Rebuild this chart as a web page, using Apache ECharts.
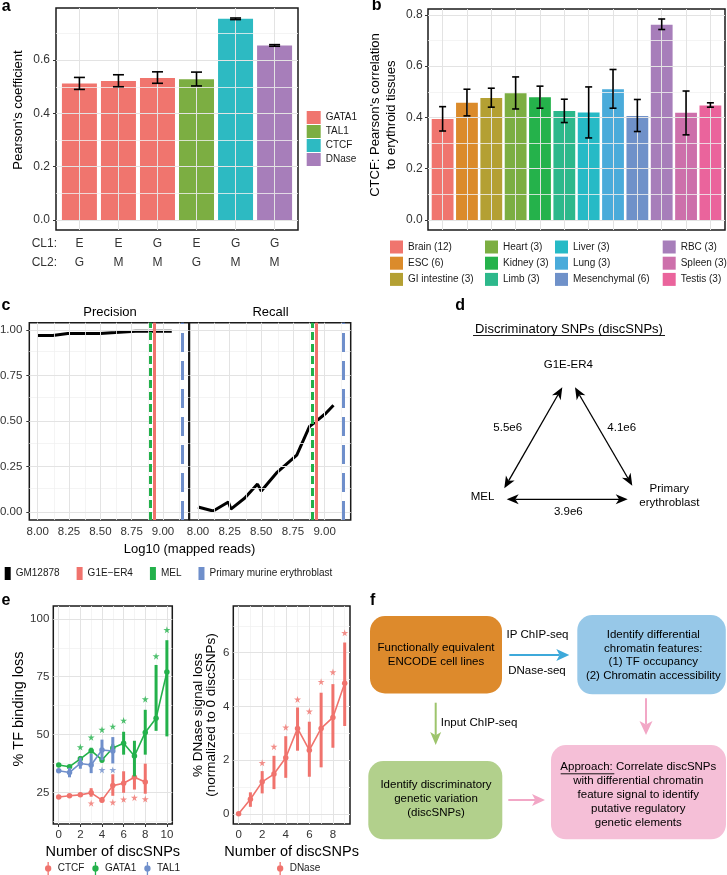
<!DOCTYPE html>
<html><head><meta charset="utf-8">
<script src="https://cdn.jsdelivr.net/npm/echarts@6/dist/echarts.min.js"></script>
<style>html,body{margin:0;padding:0;background:#fff}#c{width:727px;height:875px}</style>
</head><body><div id="c"></div>
<script>
// ---------------- Panel a data ----------------
const aCL1 = ['E','E','G','E','G','G'];
const aCL2 = ['G','M','M','G','M','M'];
const aMarkOf = ['GATA1','GATA1','GATA1','TAL1','CTCF','DNase'];
const aMean = [0.512,0.522,0.533,0.528,0.755,0.655];
const aLow  = [0.490,0.500,0.513,0.503,0.752,0.652];
const aHigh = [0.535,0.545,0.556,0.555,0.758,0.658];
const aMarks = ['GATA1','TAL1','CTCF','DNase'];
const aYTicks = [0,0.2,0.4,0.6];
const aYMinor = [0.1,0.3,0.5,0.7];

// ---------------- Panel b data ----------------
const bTissues = ['Brain (12)','ESC (6)','GI intestine (3)','Heart (3)','Kidney (3)','Limb (3)','Liver (3)','Lung (3)','Mesenchymal (6)','RBC (3)','Spleen (3)','Testis (3)'];
const bMean = [0.394,0.457,0.476,0.494,0.479,0.425,0.419,0.510,0.406,0.762,0.418,0.447];
const bLow  = [0.347,0.406,0.440,0.433,0.436,0.380,0.320,0.436,0.345,0.743,0.332,0.440];
const bHigh = [0.442,0.510,0.514,0.558,0.522,0.471,0.519,0.587,0.470,0.784,0.503,0.457];
const bYTicks = [0,0.2,0.4,0.6,0.8];
const bYMinor = [0.1,0.3,0.5,0.7];

// ---------------- Panel c data ----------------
const cReads     = [8.00,8.12,8.24,8.26,8.37,8.47,8.50,8.62,8.78,8.88,8.93,9.01,9.07];
const cPrecision = [0.969,0.969,0.980,0.980,0.980,0.980,0.980,0.985,0.992,0.992,0.992,0.992,0.992];
const cRecall    = [0.027,0.005,0.055,0.016,0.077,0.153,0.115,0.214,0.312,0.469,0.496,0.542,0.586];
const cRefNames  = ['G1E\u2212ER4','MEL','Primary murine erythroblast'];
const cRefReads  = [8.93,8.905,9.148];
const cXTicks = [8,8.25,8.5,8.75,9];
const cXMinor = [8.125,8.375,8.625,8.875,9.125];
const cYTicks = [0,0.25,0.5,0.75,1];
const cYMinor = [0.125,0.375,0.625,0.875];

// ---------------- Panel e data ----------------
const eCTCFx = [0,1,2,3,4,5,6,7,8];
const eCTCF     = [23.0,23.5,23.9,24.8,21.6,27.9,28.9,31.5,29.5];
const eCTCFLow  = [22.6,23.1,23.3,23.1,20.7,23.5,24.8,26.2,24.4];
const eCTCFHigh = [23.4,23.9,24.5,26.8,23.0,32.8,34.1,33.2,37.4];
const eCTCFStars = [[3,20.3],[5,20.7],[6,22.0],[7,22.7],[8,22.1]];
const eGATA1x = [0,1,2,3,4,5,6,7,8,9,10];
const eGATA1     = [36.8,36.1,39.5,43.0,39.0,44.2,46.2,40.7,50.9,57.0,77.0];
const eGATA1Low  = [36.2,35.4,38.5,41.8,37.8,42.5,41.3,31.9,41.3,51.6,49.2];
const eGATA1High = [37.4,36.8,40.6,44.3,40.3,45.8,51.2,47.3,60.7,80.1,90.8];
const eGATA1Stars = [[2,44.6],[3,48.8],[4,52.1],[5,53.5],[6,56.1],[8,65.3],[9,83.9],[10,95.3]];
const eTAL1x = [0,1,2,3,4,5];
const eTAL1     = [34.3,33.6,37.5,36.8,43.3,42.9];
const eTAL1Low  = [33.6,31.5,35.2,33.3,38.9,37.5];
const eTAL1High = [35.0,35.6,40.0,41.7,47.8,48.9];
const eTAL1Stars = [[4,34.7],[5,34.7]];
const eDNasex = [0,1,2,3,4,5,6,7,8,9];
const eDNase     = [0,0.54,1.19,1.48,2.09,3.18,2.37,3.18,3.59,4.86];
const eDNaseLow  = [0,0.26,0.76,0.92,1.34,2.35,1.38,1.73,2.46,3.27];
const eDNaseHigh = [0,0.80,1.59,2.16,2.89,3.96,3.43,4.51,4.83,6.38];
const eDNaseStars = [[2,1.90],[3,2.50],[4,3.22],[5,4.26],[6,3.82],[7,4.92],[8,5.28],[9,6.74]];
const eLXTicks = [0,2,4,6,8,10], eLXMinor = [1,3,5,7,9];
const eLYTicks = [25,50,75,100], eLYMinor = [12.5,37.5,62.5,87.5];
const eRXTicks = [0,2,4,6,8], eRXMinor = [1,3,5,7,9];
const eRYTicks = [0,2,4,6], eRYMinor = [1,3,5,7];

// ---------------- styling ----------------
const FONT = '"Liberation Sans", Arial, Helvetica, sans-serif';
const aColors = {GATA1:'#F0756E', TAL1:'#7CAE42', CTCF:'#2DBAC2', DNase:'#A77EBA'};
const bColors = ['#F0756E','#DB8B2B','#B4A033','#7CAE42','#25B24B','#2DB88B','#26BAC6','#4AABDA','#6F91C9','#A77EBA','#CD70AB','#EA649C'];
const eColors = {CTCF:'#F0736D', GATA1:'#23B14B', TAL1:'#6F8FCB', DNase:'#F0736D'};
const MAJ = {color:'#e3e3e3', width:1, type:'solid'};
const MIN = {color:'#f1f1f1', width:0.8, type:'solid'};
const STAR = 'path://M50,0L61,35L98,35L68,57L79,91L50,70L21,91L32,57L2,35L39,35Z';
const PR_ICON = 'path://M4.3,0H5.7V14H4.3Z M5,3.6A3.4,3.4,0,1,1,4.99,3.6Z';

const chart = echarts.init(document.getElementById('c'), null, {renderer:'canvas', width:727, height:875});

function mkGrid(left, top, width, height){
  return {left, top, width, height, show:true, borderColor:'#1a1a1a', borderWidth:1.5,
          backgroundColor:'rgba(0,0,0,0)', containLabel:false, outerBoundsMode:'none'};
}
function valAxis(grid, min, max, ticks, o){
  o = o || {};
  return {
    type:'value', gridIndex:grid, min, max,
    axisLine:{show:false},
    axisTick:{show:true, customValues:ticks, length:3, lineStyle:{color:'#333', width:1}},
    axisLabel:{show:o.labels !== false, customValues:ticks, formatter:o.fmt, color:'#333',
               fontSize:o.fs || 12, fontFamily:FONT, margin:o.margin == null ? 5 : o.margin, lineHeight:o.lh || 14},
    splitLine:{show:false}, minorSplitLine:{show:false},
    name:o.name || '', nameLocation:'middle', nameGap:o.gap || 20,
    nameTextStyle:{fontSize:o.nfs || 13, fontFamily:FONT, color:'#000', lineHeight:o.nlh || 15,
                   padding:o.npad || 0}
  };
}
function gridLines(idx, xMaj, xMin, yMaj, yMin){
  const d = [];
  xMin.forEach(v => d.push({xAxis:v, lineStyle:MIN}));
  yMin.forEach(v => d.push({yAxis:v, lineStyle:MIN}));
  xMaj.forEach(v => d.push({xAxis:v, lineStyle:MAJ}));
  yMaj.forEach(v => d.push({yAxis:v, lineStyle:MAJ}));
  return {type:'line', xAxisIndex:idx, yAxisIndex:idx, data:[], silent:true, z:1,
    markLine:{silent:true, symbol:['none','none'], label:{show:false}, emphasis:{disabled:true},
              animation:false, data:d}};
}
function errSeries(idx, xs, lo, hi, color, lw, cap, z){
  return {type:'custom', xAxisIndex:idx, yAxisIndex:idx, z:z || 5, silent:true,
    data: xs.map((x,i) => [x, lo[i], hi[i]]),
    encode:{x:0, y:[1,2]},
    renderItem:(p, api) => {
      const x = api.value(0);
      const a = api.coord([x, api.value(1)]), b = api.coord([x, api.value(2)]);
      const st = {stroke:color, lineWidth:lw};
      const ch = [{type:'line', shape:{x1:a[0], y1:a[1], x2:b[0], y2:b[1]}, style:st}];
      if (cap) {
        ch.push({type:'line', shape:{x1:a[0]-cap, y1:a[1], x2:a[0]+cap, y2:a[1]}, style:st});
        ch.push({type:'line', shape:{x1:b[0]-cap, y1:b[1], x2:b[0]+cap, y2:b[1]}, style:st});
      }
      return {type:'group', children:ch};
    }};
}

const series = [];
// ---- a ----
series.push(gridLines(0, [1,2,3,4,5,6], [], aYTicks, aYMinor));
aMarks.forEach(m => series.push({
  name:'a:' + m, type:'bar', xAxisIndex:0, yAxisIndex:0, barWidth:35, barGap:'-100%', z:3,
  itemStyle:{color:aColors[m]}, color:aColors[m],
  data: aMean.map((v,i) => aMarkOf[i] === m ? [i+1, v] : null).filter(d => d)
}));
series.push(errSeries(0, aMean.map((v,i)=>i+1), aLow, aHigh, '#000', 1.6, 5.5));
// ---- b ----
series.push(gridLines(1, bTissues.map((t,i)=>i+1), [], bYTicks, bYMinor));
bTissues.forEach((t,i) => series.push({
  name:'b:' + t, type:'bar', xAxisIndex:1, yAxisIndex:1, barWidth:21.8, barGap:'-100%', z:3,
  itemStyle:{color:bColors[i]}, color:bColors[i], data:[[i+1, bMean[i]]]
}));
series.push(errSeries(1, bTissues.map((t,i)=>i+1), bLow, bHigh, '#000', 1.6, 3.5));
// ---- c ----
const refStyles = [
  {color:'#F0736D', width:3, type:'solid'},
  {color:'#23B14B', width:3, type:[8,4]},
  {color:'#6F8FCB', width:3, type:[19,9]}
];
[2,3].forEach(g => {
  series.push(gridLines(g, cXTicks, cXMinor, cYTicks, cYMinor));
  series.push({name:'c:GM12878', type:'line', xAxisIndex:g, yAxisIndex:g, z:3, symbol:'none',
    color:'#000', lineStyle:{color:'#000', width:3},
    data: cReads.map((x,i) => [x, g === 2 ? cPrecision[i] : cRecall[i]])});
  [1,0,2].forEach(k => series.push({name:'c:' + cRefNames[k], type:'line', xAxisIndex:g, yAxisIndex:g,
    data:[], z:4, color:refStyles[k].color,
    markLine:{silent:true, symbol:['none','none'], label:{show:false}, emphasis:{disabled:true}, animation:false,
      lineStyle:refStyles[k], data:[{xAxis:cRefReads[k]}]}}));
});
// ---- e ----
series.push(gridLines(4, eLXTicks, eLXMinor, eLYTicks, eLYMinor));
series.push(gridLines(5, eRXTicks, eRXMinor, eRYTicks, eRYMinor));
function eGroup(idx, name, xs, v, lo, hi, stars, color, z){
  series.push(errSeries(idx, xs, lo, hi, color, 3, 0, z));
  series.push({name:name, type:'line', xAxisIndex:idx, yAxisIndex:idx, z:z+1, color:color,
    symbol:'circle', symbolSize:5.5, lineStyle:{color:color, width:1.6}, itemStyle:{color:color},
    data: xs.map((x,i) => [x, v[i]])});
  series.push({type:'scatter', xAxisIndex:idx, yAxisIndex:idx, z:z+1, symbol:STAR, symbolSize:7,
    itemStyle:{color:color}, silent:true, data:stars});
}
eGroup(4, 'eL:CTCF', eCTCFx, eCTCF, eCTCFLow, eCTCFHigh, eCTCFStars, eColors.CTCF, 5);
eGroup(4, 'eL:GATA1', eGATA1x, eGATA1, eGATA1Low, eGATA1High, eGATA1Stars, eColors.GATA1, 7);
eGroup(4, 'eL:TAL1', eTAL1x, eTAL1, eTAL1Low, eTAL1High, eTAL1Stars, eColors.TAL1, 9);
eGroup(5, 'eR:DNase', eDNasex, eDNase, eDNaseLow, eDNaseHigh, eDNaseStars, eColors.DNase, 5);

// ---------------- legends ----------------
const legTxt = {fontSize:10, fontFamily:FONT, color:'#1a1a1a'};
const nameFmt = n => n.slice(n.indexOf(':') + 1);
const legends = [
  {left:306.7, top:111, orient:'vertical', icon:'rect', itemWidth:14, itemHeight:13, itemGap:1,
   data:aMarks.map(m => 'a:' + m)},
  {left:390, top:240.5, orient:'vertical', icon:'rect', itemWidth:13, itemHeight:13, itemGap:3.2,
   data:bTissues.slice(0,3).map(t => 'b:' + t)},
  {left:485, top:240.5, orient:'vertical', icon:'rect', itemWidth:13, itemHeight:13, itemGap:3.2,
   data:bTissues.slice(3,6).map(t => 'b:' + t)},
  {left:555, top:240.5, orient:'vertical', icon:'rect', itemWidth:13, itemHeight:13, itemGap:3.2,
   data:bTissues.slice(6,9).map(t => 'b:' + t)},
  {left:662.7, top:240.5, orient:'vertical', icon:'rect', itemWidth:13, itemHeight:13, itemGap:3.2,
   data:bTissues.slice(9,12).map(t => 'b:' + t)},
  {left:4.7, top:567, orient:'horizontal', icon:'rect', itemWidth:6, itemHeight:13, itemGap:17,
   data:['c:GM12878'].concat(cRefNames.map(n => 'c:' + n))},
  {left:45, top:862, orient:'horizontal', icon:PR_ICON, itemWidth:9, itemHeight:13, itemGap:8,
   data:['eL:CTCF','eL:GATA1','eL:TAL1']},
  {left:277, top:862, orient:'horizontal', icon:PR_ICON, itemWidth:9, itemHeight:13, itemGap:8,
   data:['eR:DNase']}
].map(l => Object.assign({padding:0, selectedMode:false, formatter:nameFmt, textStyle:legTxt}, l));

// ---------------- graphics (letters, diagram d, flowchart f) ----------------
const G = [];
function T(x, y, text, o){
  o = o || {};
  G.push({type:'text', x, y, silent:true, style:{text, fill:o.fill || '#000', fontSize:o.fs || 11.5,
    fontFamily:FONT, fontWeight:o.fw || 'normal', align:o.align || 'center', verticalAlign:'middle',
    lineHeight:o.lh || 14}});
}
function L(x1, y1, x2, y2, color, lw){
  G.push({type:'line', silent:true, shape:{x1, y1, x2, y2}, style:{stroke:color, lineWidth:lw}});
}
function headPts(tx, ty, ux, uy, Lh, W, notch){
  const px = -uy, py = ux, bx = tx - ux*Lh, by = ty - uy*Lh, nx = tx - ux*Lh*notch, ny = ty - uy*Lh*notch;
  return [[tx,ty],[bx+px*W/2, by+py*W/2],[nx,ny],[bx-px*W/2, by-py*W/2]];
}
function arrow(x1, y1, x2, y2, o){
  const dx = x2-x1, dy = y2-y1, len = Math.hypot(dx,dy), ux = dx/len, uy = dy/len;
  const cut = o.L * o.notch;
  const sx = o.both ? x1 + ux*cut : x1, sy = o.both ? y1 + uy*cut : y1;
  L(sx, sy, x2 - ux*cut, y2 - uy*cut, o.color, o.lw);
  G.push({type:'polygon', silent:true, shape:{points:headPts(x2,y2,ux,uy,o.L,o.W,o.notch)}, style:{fill:o.color}});
  if (o.both) G.push({type:'polygon', silent:true, shape:{points:headPts(x1,y1,-ux,-uy,o.L,o.W,o.notch)}, style:{fill:o.color}});
}
// panel letters
[['a',1.7,7],['b',371.7,6],['c',1.5,306],['d',455.3,306],['e',1.5,600.5],['f',370,600.5]]
  .forEach(p => T(p[1], p[2], p[0], {fs:16, fw:'bold', align:'left'}));
// panel a CL labels
T(57, 243.3, 'CL1:', {fs:12, align:'right', fill:'#333'});
T(57, 262.7, 'CL2:', {fs:12, align:'right', fill:'#333'});
// panel c facet titles and shared x title
T(110, 312, 'Precision', {fs:13});
T(270.5, 312, 'Recall', {fs:13});
T(189.5, 549.3, 'Log10 (mapped reads)', {fs:13});
// panel d diagram
T(569, 329.3, 'Discriminatory SNPs (discSNPs)', {fs:13});
L(473, 335.5, 665, 335.5, '#000', 0.9);
T(568.3, 365.3, 'G1E-ER4');
T(470.7, 496.7, 'MEL', {align:'left'});
T(669.3, 495.8, 'Primary\nerythroblast', {lh:13.7});
T(507.7, 428, '5.5e6');
T(621.7, 428, '4.1e6');
T(568.3, 511.7, '3.9e6');
const dArrow = {color:'#000', lw:1.3, L:12, W:10, notch:0.72, both:true};
arrow(562.3, 387.3, 504.3, 488.3, dArrow);
arrow(575, 387.3, 632.3, 485.7, dArrow);
arrow(506.7, 499.3, 627.7, 499.3, dArrow);
// panel f flowchart
G.push({type:'rect', silent:true, shape:{x:370, y:616, width:132, height:77.5, r:15}, style:{fill:'#DD8A2C'}});
G.push({type:'rect', silent:true, shape:{x:577.3, y:615, width:148.5, height:79.3, r:15}, style:{fill:'#97C8E8'}});
G.push({type:'rect', silent:true, shape:{x:368.3, y:761, width:134, height:78.3, r:15}, style:{fill:'#B2D08C'}});
G.push({type:'rect', silent:true, shape:{x:551, y:745, width:175, height:94.3, r:15}, style:{fill:'#F5BFD7'}});
T(436, 655, 'Functionally equivalent\nENCODE cell lines');
T(653.3, 655.3, 'Identify differential\nchromatin features:\n(1) TF occupancy\n(2) Chromatin accessibility', {lh:13.9});
T(436, 799, 'Identify discriminatory\ngenetic variation\n(discSNPs)');
T(638.3, 794.6, 'Approach: Correlate discSNPs\nwith differential chromatin\nfeature signal to identify\nputative regulatory\ngenetic elements', {lh:14});
L(560.7, 773.8, 614.3, 773.8, '#000', 0.9);
T(537.5, 635, 'IP ChIP-seq');
T(537, 671, 'DNase-seq');
T(440.7, 722.7, 'Input ChIP-seq', {align:'left'});
arrow(509.3, 655, 569.3, 655, {color:'#3DA9DA', lw:2, L:13, W:12, notch:0.75});
arrow(435.7, 702.7, 435.7, 745, {color:'#9DC46C', lw:2, L:13, W:11, notch:0.75});
arrow(646, 698.3, 646, 735, {color:'#F2A7C6', lw:2, L:14, W:13, notch:0.75});
arrow(508.3, 800, 545, 800, {color:'#F2A7C6', lw:2, L:13, W:12, notch:0.75});

// ---------------- option ----------------
const option = {
  animation:false,
  textStyle:{fontFamily:FONT},
  grid:[
    mkGrid(56, 8, 242, 222),
    mkGrid(428, 9, 297, 221),
    mkGrid(29.3, 322.7, 159.5, 197.3),
    mkGrid(189.5, 322.7, 161.2, 197.3),
    mkGrid(53.3, 606, 119, 218),
    mkGrid(233.3, 606, 116.7, 218)
  ],
  xAxis:[
    valAxis(0, 0.4, 6.6, [1,2,3,4,5,6], {fmt:v => aCL1[Math.round(v)-1] + '\n' + aCL2[Math.round(v)-1], lh:19.5, margin:3.5}),
    valAxis(1, 0.4, 12.6, bTissues.map((t,i)=>i+1), {labels:false}),
    valAxis(2, 7.933, 9.206, cXTicks, {fmt:v => v.toFixed(2), fs:11.5, margin:4.5}),
    valAxis(3, 7.933, 9.206, cXTicks, {fmt:v => v.toFixed(2), fs:11.5, margin:4.5}),
    valAxis(4, -0.5, 10.5, eLXTicks, {fs:11.5, margin:4, name:'Number of discSNPs', gap:20, nfs:14.5}),
    valAxis(5, -0.45, 9.45, eRXTicks, {fs:11.5, margin:4, name:'Number of discSNPs', gap:20, nfs:14.5})
  ],
  yAxis:[
    valAxis(0, -0.0375, 0.7955, aYTicks, {fmt:v => v.toFixed(1), margin:6, name:"Pearson's coefficient", gap:30, npad:[0,0,0,18]}),
    valAxis(1, -0.0392, 0.823, bYTicks, {fmt:v => v.toFixed(1), margin:5.3, name:"CTCF: Pearson's correlation\nto erythroid tissues", gap:28, nlh:16.6, npad:[0,0,0,9]}),
    valAxis(2, -0.044, 1.039, cYTicks, {fmt:v => v.toFixed(2), fs:11.5, margin:7}),
    valAxis(3, -0.044, 1.039, cYTicks, {labels:false}),
    valAxis(4, 11.3, 105.6, eLYTicks, {fs:11.5, margin:4, name:'% TF binding loss', gap:26, nfs:14.5, npad:[0,0,0,12]}),
    valAxis(5, -0.38, 7.74, eRYTicks, {fs:11.5, margin:4, name:'% DNase signal loss\n(normalized to 0 discSNPs)', gap:15, nfs:13.5, nlh:13.5})
  ],
  legend:legends,
  series:series,
  graphic:{elements:G}
};
// right facet of c has no tick marks on its y axis
option.yAxis[3].axisTick.show = false;
chart.setOption(option);
</script></body></html>
